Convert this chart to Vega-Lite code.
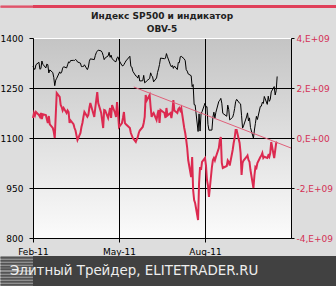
{
 "$schema": "https://vega.github.io/schema/vega-lite/v6.json",
 "background": "#dddddd",
 "padding": 0,
 "config": {"font": "DejaVu Sans", "view": {"stroke": null}},
 "datasets": {
  "main": [
{"d":"2011-02-22","sp":1315.4,"obv":0.80e9},
{"d":"2011-02-23","sp":1307.4,"obv":1.00e9},
{"d":"2011-02-24","sp":1306.1,"obv":0.90e9},
{"d":"2011-02-25","sp":1319.9,"obv":1.04e9},
{"d":"2011-02-28","sp":1327.2,"obv":0.92e9},
{"d":"2011-03-01","sp":1306.3,"obv":0.85e9},
{"d":"2011-03-02","sp":1308.4,"obv":1.00e9},
{"d":"2011-03-03","sp":1331.0,"obv":0.76e9},
{"d":"2011-03-04","sp":1321.2,"obv":0.95e9},
{"d":"2011-03-07","sp":1310.1,"obv":0.92e9},
{"d":"2011-03-08","sp":1321.8,"obv":0.75e9},
{"d":"2011-03-09","sp":1320.0,"obv":0.60e9},
{"d":"2011-03-10","sp":1295.1,"obv":0.88e9},
{"d":"2011-03-11","sp":1304.3,"obv":0.55e9},
{"d":"2011-03-14","sp":1296.4,"obv":0.40e9},
{"d":"2011-03-15","sp":1281.9,"obv":0.25e9},
{"d":"2011-03-16","sp":1256.9,"obv":0.00e9},
{"d":"2011-03-17","sp":1273.7,"obv":0.90e9},
{"d":"2011-03-18","sp":1279.2,"obv":1.80e9},
{"d":"2011-03-21","sp":1298.4,"obv":1.64e9},
{"d":"2011-03-22","sp":1293.8,"obv":1.32e9},
{"d":"2011-03-23","sp":1297.5,"obv":1.24e9},
{"d":"2011-03-24","sp":1309.7,"obv":1.10e9},
{"d":"2011-03-25","sp":1313.8,"obv":1.20e9},
{"d":"2011-03-28","sp":1310.2,"obv":1.00e9},
{"d":"2011-03-29","sp":1319.4,"obv":1.10e9},
{"d":"2011-03-30","sp":1328.3,"obv":1.04e9},
{"d":"2011-03-31","sp":1325.8,"obv":0.60e9},
{"d":"2011-04-01","sp":1332.4,"obv":0.70e9},
{"d":"2011-04-04","sp":1332.9,"obv":0.55e9},
{"d":"2011-04-05","sp":1332.6,"obv":0.40e9},
{"d":"2011-04-06","sp":1335.5,"obv":0.30e9},
{"d":"2011-04-07","sp":1333.5,"obv":0.10e9},
{"d":"2011-04-08","sp":1328.2,"obv":-0.08e9},
{"d":"2011-04-11","sp":1324.5,"obv":0.20e9},
{"d":"2011-04-12","sp":1314.2,"obv":0.44e9},
{"d":"2011-04-13","sp":1314.4,"obv":0.60e9},
{"d":"2011-04-14","sp":1314.5,"obv":0.84e9},
{"d":"2011-04-15","sp":1319.7,"obv":1.04e9},
{"d":"2011-04-18","sp":1305.1,"obv":0.85e9},
{"d":"2011-04-19","sp":1312.6,"obv":0.92e9},
{"d":"2011-04-20","sp":1330.4,"obv":1.20e9},
{"d":"2011-04-21","sp":1337.4,"obv":1.40e9},
{"d":"2011-04-25","sp":1335.3,"obv":0.84e9},
{"d":"2011-04-26","sp":1347.2,"obv":1.20e9},
{"d":"2011-04-27","sp":1355.7,"obv":1.52e9},
{"d":"2011-04-28","sp":1360.5,"obv":1.84e9},
{"d":"2011-04-29","sp":1363.6,"obv":1.40e9},
{"d":"2011-05-02","sp":1361.2,"obv":1.00e9},
{"d":"2011-05-03","sp":1356.6,"obv":0.70e9},
{"d":"2011-05-04","sp":1347.3,"obv":0.40e9},
{"d":"2011-05-05","sp":1335.1,"obv":1.12e9},
{"d":"2011-05-06","sp":1340.2,"obv":1.10e9},
{"d":"2011-05-09","sp":1346.3,"obv":0.80e9},
{"d":"2011-05-10","sp":1357.2,"obv":1.00e9},
{"d":"2011-05-11","sp":1342.1,"obv":1.20e9},
{"d":"2011-05-12","sp":1348.7,"obv":0.80e9},
{"d":"2011-05-13","sp":1337.8,"obv":1.32e9},
{"d":"2011-05-16","sp":1329.5,"obv":1.00e9},
{"d":"2011-05-17","sp":1329.0,"obv":0.84e9},
{"d":"2011-05-18","sp":1340.7,"obv":1.44e9},
{"d":"2011-05-19","sp":1343.6,"obv":1.00e9},
{"d":"2011-05-20","sp":1333.3,"obv":0.44e9},
{"d":"2011-05-23","sp":1317.4,"obv":0.60e9},
{"d":"2011-05-24","sp":1316.3,"obv":0.80e9},
{"d":"2011-05-25","sp":1320.5,"obv":1.04e9},
{"d":"2011-05-26","sp":1325.7,"obv":0.60e9},
{"d":"2011-05-27","sp":1331.1,"obv":0.55e9},
{"d":"2011-05-31","sp":1345.2,"obv":0.40e9},
{"d":"2011-06-01","sp":1314.6,"obv":0.20e9},
{"d":"2011-06-02","sp":1312.9,"obv":0.10e9},
{"d":"2011-06-03","sp":1300.2,"obv":0.00e9},
{"d":"2011-06-06","sp":1286.2,"obv":-0.16e9},
{"d":"2011-06-07","sp":1284.9,"obv":-0.05e9},
{"d":"2011-06-08","sp":1279.6,"obv":0.04e9},
{"d":"2011-06-09","sp":1289.0,"obv":0.20e9},
{"d":"2011-06-10","sp":1271.0,"obv":0.30e9},
{"d":"2011-06-13","sp":1271.8,"obv":0.44e9},
{"d":"2011-06-14","sp":1287.9,"obv":0.60e9},
{"d":"2011-06-15","sp":1265.4,"obv":0.84e9},
{"d":"2011-06-16","sp":1267.6,"obv":1.72e9},
{"d":"2011-06-17","sp":1271.5,"obv":1.50e9},
{"d":"2011-06-20","sp":1278.4,"obv":1.72e9},
{"d":"2011-06-21","sp":1295.5,"obv":1.24e9},
{"d":"2011-06-22","sp":1287.1,"obv":0.84e9},
{"d":"2011-06-23","sp":1283.5,"obv":0.95e9},
{"d":"2011-06-24","sp":1268.5,"obv":1.00e9},
{"d":"2011-06-27","sp":1280.1,"obv":0.72e9},
{"d":"2011-06-28","sp":1296.7,"obv":0.95e9},
{"d":"2011-06-29","sp":1307.4,"obv":1.12e9},
{"d":"2011-06-30","sp":1320.6,"obv":0.60e9},
{"d":"2011-07-01","sp":1339.7,"obv":1.12e9},
{"d":"2011-07-05","sp":1337.9,"obv":1.00e9},
{"d":"2011-07-06","sp":1339.2,"obv":0.80e9},
{"d":"2011-07-07","sp":1353.2,"obv":1.20e9},
{"d":"2011-07-08","sp":1343.8,"obv":0.90e9},
{"d":"2011-07-11","sp":1319.5,"obv":1.00e9},
{"d":"2011-07-12","sp":1313.6,"obv":0.80e9},
{"d":"2011-07-13","sp":1317.7,"obv":1.05e9},
{"d":"2011-07-14","sp":1308.9,"obv":1.52e9},
{"d":"2011-07-15","sp":1316.1,"obv":1.10e9},
{"d":"2011-07-18","sp":1305.4,"obv":1.00e9},
{"d":"2011-07-19","sp":1326.7,"obv":1.15e9},
{"d":"2011-07-20","sp":1325.8,"obv":1.20e9},
{"d":"2011-07-21","sp":1343.8,"obv":1.10e9},
{"d":"2011-07-22","sp":1345.0,"obv":1.20e9},
{"d":"2011-07-25","sp":1337.4,"obv":0.40e9},
{"d":"2011-07-26","sp":1331.9,"obv":0.20e9},
{"d":"2011-07-27","sp":1304.9,"obv":-0.08e9},
{"d":"2011-07-28","sp":1300.7,"obv":-0.40e9},
{"d":"2011-07-29","sp":1292.3,"obv":-0.88e9},
{"d":"2011-08-01","sp":1286.9,"obv":-1.56e9},
{"d":"2011-08-02","sp":1254.1,"obv":-0.76e9},
{"d":"2011-08-03","sp":1260.3,"obv":-2.08e9},
{"d":"2011-08-04","sp":1200.1,"obv":-2.48e9},
{"d":"2011-08-05","sp":1199.4,"obv":-2.60e9},
{"d":"2011-08-08","sp":1119.5,"obv":-3.28e9},
{"d":"2011-08-09","sp":1172.5,"obv":-1.80e9},
{"d":"2011-08-10","sp":1120.8,"obv":-1.16e9},
{"d":"2011-08-11","sp":1172.6,"obv":-1.28e9},
{"d":"2011-08-12","sp":1178.8,"obv":-0.96e9},
{"d":"2011-08-15","sp":1204.5,"obv":-0.80e9},
{"d":"2011-08-16","sp":1192.8,"obv":-1.10e9},
{"d":"2011-08-17","sp":1193.9,"obv":-1.68e9},
{"d":"2011-08-18","sp":1140.7,"obv":-1.90e9},
{"d":"2011-08-19","sp":1123.5,"obv":-2.36e9},
{"d":"2011-08-22","sp":1123.8,"obv":-1.16e9},
{"d":"2011-08-23","sp":1162.4,"obv":-0.88e9},
{"d":"2011-08-24","sp":1177.6,"obv":-0.80e9},
{"d":"2011-08-25","sp":1159.3,"obv":-0.90e9},
{"d":"2011-08-26","sp":1176.8,"obv":-0.76e9},
{"d":"2011-08-29","sp":1210.1,"obv":-0.40e9},
{"d":"2011-08-30","sp":1212.9,"obv":-0.08e9},
{"d":"2011-08-31","sp":1218.9,"obv":0.04e9},
{"d":"2011-09-01","sp":1204.4,"obv":-1.00e9},
{"d":"2011-09-02","sp":1174.0,"obv":-1.20e9},
{"d":"2011-09-06","sp":1165.2,"obv":-1.12e9},
{"d":"2011-09-07","sp":1198.6,"obv":-0.90e9},
{"d":"2011-09-08","sp":1185.9,"obv":-0.96e9},
{"d":"2011-09-09","sp":1154.2,"obv":-1.10e9},
{"d":"2011-09-12","sp":1162.3,"obv":-0.48e9},
{"d":"2011-09-13","sp":1172.9,"obv":-0.20e9},
{"d":"2011-09-14","sp":1188.7,"obv":0.00e9},
{"d":"2011-09-15","sp":1209.1,"obv":0.32e9},
{"d":"2011-09-16","sp":1216.0,"obv":0.32e9},
{"d":"2011-09-19","sp":1204.1,"obv":-0.20e9},
{"d":"2011-09-20","sp":1202.1,"obv":-0.60e9},
{"d":"2011-09-21","sp":1166.8,"obv":-1.48e9},
{"d":"2011-09-22","sp":1129.6,"obv":-1.00e9},
{"d":"2011-09-23","sp":1136.4,"obv":-0.90e9},
{"d":"2011-09-26","sp":1163.0,"obv":-0.76e9},
{"d":"2011-09-27","sp":1175.4,"obv":-0.70e9},
{"d":"2011-09-28","sp":1151.1,"obv":-0.88e9},
{"d":"2011-09-29","sp":1160.4,"obv":-0.95e9},
{"d":"2011-09-30","sp":1131.4,"obv":-1.28e9},
{"d":"2011-10-03","sp":1099.2,"obv":-2.00e9},
{"d":"2011-10-04","sp":1124.0,"obv":-1.50e9},
{"d":"2011-10-05","sp":1144.0,"obv":-1.16e9},
{"d":"2011-10-06","sp":1165.0,"obv":-1.20e9},
{"d":"2011-10-07","sp":1155.5,"obv":-1.00e9},
{"d":"2011-10-10","sp":1194.9,"obv":-0.76e9},
{"d":"2011-10-11","sp":1195.5,"obv":-0.70e9},
{"d":"2011-10-12","sp":1207.3,"obv":-0.60e9},
{"d":"2011-10-13","sp":1203.7,"obv":-0.80e9},
{"d":"2011-10-14","sp":1224.6,"obv":-0.75e9},
{"d":"2011-10-17","sp":1200.9,"obv":-0.80e9},
{"d":"2011-10-18","sp":1225.4,"obv":-0.70e9},
{"d":"2011-10-19","sp":1209.9,"obv":-0.76e9},
{"d":"2011-10-20","sp":1215.4,"obv":-0.60e9},
{"d":"2011-10-21","sp":1238.3,"obv":-0.16e9},
{"d":"2011-10-24","sp":1254.2,"obv":-0.80e9},
{"d":"2011-10-25","sp":1229.1,"obv":-0.50e9},
{"d":"2011-10-26","sp":1242.0,"obv":-0.20e9},
{"d":"2011-10-27","sp":1284.6,"obv":-0.16e9}
  ],
  "trend": [
   {"d":"2011-06-04","t":1253},
   {"d":"2011-11-10","t":1070}
  ],
  "footer": [{"label":"Элитный Трейдер, ELITETRADER.RU"}],
  "band": [{"label":""}]
 },
 "concat": [
  {
   "width": 303, "height": 3,
   "view": {"fill": "#e0405a", "stroke": null},
   "data": {"name": "band"},
   "mark": {"type": "text"},
   "encoding": {
    "text": {"field": "label"},
    "y": {"datum": 0.5, "type": "quantitative", "scale": {"domain": [0, 1]},
      "axis": {"values": [0.1666667, 0.5, 0.8333333], "labels": false, "domain": false, "grid": false, "title": null, "labelPadding": 0,
        "translate": 0, "tickSize": 32.5, "tickWidth": 1, "tickColor": "#e0405a", "tickCap": "butt"}}
   }
  },
  {
   "width": 258, "height": 200,
   "view": {"fill": {"gradient": "linear", "x1": 0, "y1": 0, "x2": 0, "y2": 1, "stops": [{"offset": 0, "color": "#c4c4c4"}, {"offset": 1, "color": "#fbfbfb"}]}, "stroke": null},
   "title": {"text": ["Индекс SP500 и индикатор", "OBV-5"], "fontSize": 9, "fontWeight": "bold", "lineHeight": 13, "offset": 0, "color": "#222222"},
   "layer": [
    {
     "data": {"name": "main"},
     "mark": {"type": "line", "color": "#000000", "strokeWidth": 1},
     "encoding": {
      "x": {"field": "d", "type": "temporal",
        "scale": {"domain": [{"year": 2011, "month": 2, "date": 22}, {"year": 2011, "month": 11, "date": 10}]},
        "axis": {"values": [{"year": 2011, "month": 2, "date": 22}, {"year": 2011, "month": 5, "date": 20}, {"year": 2011, "month": 8, "date": 15}],
          "format": "%b-%y", "grid": true, "gridColor": "#000000", "gridOpacity": 1, "domainColor": "#000000", "tickColor": "#000000", "tickSize": 4,
          "labelFontSize": 9, "labelColor": "#000000", "labelPadding": 5, "labelFlush": false, "title": null}},
      "y": {"field": "sp", "type": "quantitative",
        "scale": {"domain": [800, 1400]},
        "axis": {"values": [800, 950, 1100, 1250, 1400], "format": "d", "grid": true,
          "gridColor": {"condition": {"test": "datum.value === 1400", "value": "#ffffff"}, "value": "#000000"}, "gridOpacity": 1,
          "domainColor": "#000000", "tickColor": "#000000", "tickSize": 4, "labelFontSize": 9, "labelColor": "#000000", "labelPadding": 6, "title": null}}
     }
    },
    {
     "data": {"name": "main"},
     "mark": {"type": "line", "color": "#dc2a50", "strokeWidth": 2},
     "encoding": {
      "x": {"field": "d", "type": "temporal"},
      "y": {"field": "obv", "type": "quantitative",
        "scale": {"domain": [-4e9, 4e9]},
        "axis": {"orient": "right", "values": [-4e9, -2e9, 0, 2e9, 4e9],
          "labelExpr": "datum.value == 0 ? '0,E+00' : (datum.value / 1e9) + ',E+09'",
          "grid": false, "domainColor": "#000000", "tickColor": "#000000", "tickSize": 3,
          "labelFontSize": 9, "labelColor": "#d43055", "labelPadding": 2, "title": null}}
     }
    },
    {
     "data": {"name": "trend"},
     "mark": {"type": "line", "color": "#e0607a", "strokeWidth": 1},
     "encoding": {
      "x": {"field": "d", "type": "temporal"},
      "y": {"field": "t", "type": "quantitative", "scale": {"domain": [800, 1400]}, "axis": null}
     }
    }
   ],
   "resolve": {"scale": {"y": "independent"}, "axis": {"y": "independent"}}
  },
  {
   "width": 303, "height": 30,
   "view": {"fill": "#414141", "stroke": null},
   "data": {"name": "footer"},
   "mark": {"type": "text", "align": "left", "baseline": "middle", "dx": -23, "fontSize": 13.4, "color": "#eeeeee"},
   "encoding": {
    "text": {"field": "label"},
    "x": {"datum": 0, "type": "quantitative", "scale": {"domain": [0, 1]}, "axis": null},
    "y": {"datum": 0.5, "type": "quantitative", "scale": {"domain": [0, 1]},
      "axis": {"values": [0.0166667, 0.05, 0.0833333, 0.1166667, 0.15, 0.1833333, 0.2166667, 0.25, 0.2833333, 0.3166667, 0.35, 0.3833333, 0.4166667, 0.45, 0.4833333, 0.5166667, 0.55, 0.5833333, 0.6166667, 0.65, 0.6833333, 0.7166667, 0.75, 0.7833333, 0.8166667, 0.85, 0.8833333, 0.9166667, 0.95, 0.9833333],
        "labels": false, "domain": false, "grid": false, "title": null, "labelPadding": 0,
        "translate": 0, "tickSize": 32.5, "tickWidth": 1, "tickColor": "#414141", "tickCap": "butt"}}
   }
  }
 ],
 "columns": 1,
 "spacing": 0
}
